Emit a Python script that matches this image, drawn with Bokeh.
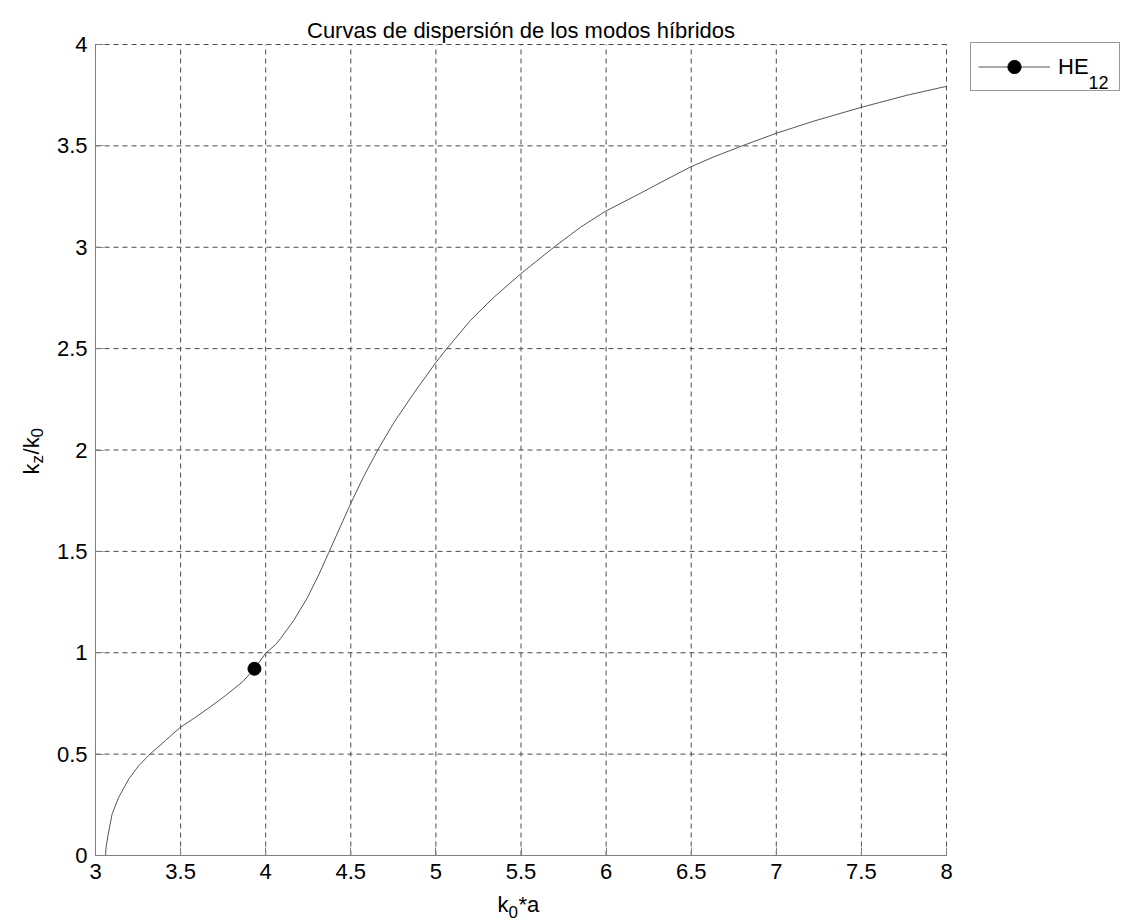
import math
from bokeh.plotting import figure
from bokeh.models import Range1d, FixedTicker, Label, Legend, LegendItem, LinearAxis
from bokeh.embed import file_html
from bokeh.resources import INLINE

# ---- data ----
k0a = [3.059, 3.062, 3.075, 3.098, 3.137, 3.196, 3.255, 3.323, 3.411, 3.495, 3.588,
       3.666, 3.764, 3.862, 3.934, 4.0, 4.058, 4.087, 4.165, 4.244, 4.312, 4.371,
       4.44, 4.499, 4.576, 4.665, 4.753, 4.87, 4.994, 5.066, 5.203, 5.34, 5.497,
       5.693, 5.85, 5.997, 6.183, 6.34, 6.496, 6.633, 6.799, 6.999, 7.22, 7.499,
       7.769, 7.98, 8.0]
kz_k0 = [0.0, 0.04, 0.107, 0.206, 0.288, 0.378, 0.444, 0.502, 0.567, 0.630, 0.682,
         0.728, 0.789, 0.855, 0.921, 0.998, 1.04, 1.07, 1.16, 1.27, 1.385, 1.495,
         1.625, 1.735, 1.87, 2.01, 2.135, 2.28, 2.425, 2.502, 2.639, 2.753, 2.868,
         3.0, 3.099, 3.178, 3.258, 3.328, 3.396, 3.446, 3.5, 3.562, 3.622, 3.690,
         3.75, 3.79, 3.793]
marker_x = [3.934]
marker_y = [0.921]

x_ticks = [3, 3.5, 4, 4.5, 5, 5.5, 6, 6.5, 7, 7.5, 8]
x_tick_labels = ["3", "3.5", "4", "4.5", "5", "5.5", "6", "6.5", "7", "7.5", "8"]
y_ticks = [0, 0.5, 1, 1.5, 2, 2.5, 3, 3.5, 4]
y_tick_labels = ["0", "0.5", "1", "1.5", "2", "2.5", "3", "3.5", "4"]

title_text = "Curvas de dispersión de los modos híbridos"
legend_main = "HE"
legend_sub = "12"

FONT = "Liberation Sans"

# ---- layout: the frame covers the canvas, axes sit at fixed data locations ----
W, H = 1120, 924
FL, FR, FT, FB = 95, 946, 44, 855          # pixel box of the [3,8]x[0,4] area
XMIN, XMAX, YMIN, YMAX = x_ticks[0], x_ticks[-1], y_ticks[0], y_ticks[-1]
sx = (FR - FL) / (XMAX - XMIN)
sy = (FB - FT) / (YMAX - YMIN)
x_range = Range1d(XMIN - FL / sx, XMAX + (W - FR) / sx)
y_range = Range1d(YMIN - (H - FB) / sy, YMAX + FT / sy)

p = figure(width=W, height=H, output_backend="svg", toolbar_location=None,
           x_range=x_range, y_range=y_range,
           x_axis_location=None, y_axis_location=None, min_border=0)
p.outline_line_color = None
p.background_fill_color = "white"
p.border_fill_color = "white"
p.grid.visible = False

# dashed grid inside the data box
p.segment(x0=x_ticks, y0=[YMIN] * len(x_ticks), x1=x_ticks, y1=[YMAX] * len(x_ticks),
          line_color="#4a4a4a", line_dash="5 4", line_width=1, level="underlay")
p.segment(x0=[XMIN] * len(y_ticks), y0=y_ticks, x1=[XMAX] * len(y_ticks), y1=y_ticks,
          line_color="#4a4a4a", line_dash="5 4", line_width=1, level="underlay")

xaxis = LinearAxis(fixed_location=YMIN, bounds=(XMIN, XMAX))
yaxis = LinearAxis(fixed_location=XMIN, bounds=(YMIN, YMAX))
for ax, ticks, labels in ((xaxis, x_ticks, x_tick_labels), (yaxis, y_ticks, y_tick_labels)):
    ax.ticker = FixedTicker(ticks=ticks)
    ax.major_label_overrides = {t: l for t, l in zip(ticks, labels)}
    ax.major_tick_in = 8
    ax.major_tick_out = 0
    ax.minor_tick_line_color = None
    ax.axis_line_color = "#808080"
    ax.major_tick_line_color = "#808080"
    ax.major_label_text_font = FONT
    ax.major_label_text_font_size = "22px"
    ax.major_label_text_color = "black"
    ax.major_label_standoff = 8
p.add_layout(xaxis, "below")
p.add_layout(yaxis, "left")

line_r = p.line(k0a, kz_k0, line_color="#555555", line_width=1)
dot_r = p.scatter(marker_x, marker_y, size=13, marker="circle",
                  fill_color="black", line_color="black")

LEG_H = 47
legend = Legend(items=[LegendItem(label=legend_main, renderers=[line_r, dot_r])],
                location=(970, H - FT - LEG_H), margin=0, padding=7, spacing=0,
                glyph_width=72, glyph_height=33, label_standoff=8, label_width=54,
                label_text_font=FONT, label_text_font_size="22px",
                label_text_color="black",
                border_line_color="#333333", border_line_width=1,
                background_fill_color=None, background_fill_alpha=0)
p.add_layout(legend, "center")


def lab(x, y, text, size, angle=0.0, align="left", level="annotation"):
    p.add_layout(Label(x=x, y=y, text=text, text_font=FONT, text_font_size=size,
                       text_color="black", angle=angle, text_align=align,
                       text_baseline="alphabetic", level=level))


# title
lab(5.5, 4.069, title_text, "22px", align="center")
# legend subscript
lab(8.834, 3.8126, legend_sub, "18px", level="overlay")
# x axis label: k_0*a
lab(5.362, -0.24, "k", "22px")
lab(5.4266, -0.28, "0", "17px")
lab(5.485, -0.24, "*a", "22px")
# y axis label: k_z/k_0 (rotated)
r = math.pi / 2
lab(2.624, 1.879, "k", "22px", angle=r)
lab(2.659, 1.933, "z", "17px", angle=r)
lab(2.624, 1.978, "/k", "22px", angle=r)
lab(2.659, 2.062, "0", "17px", angle=r)

open("out.html", "w").write(file_html(p, INLINE))
